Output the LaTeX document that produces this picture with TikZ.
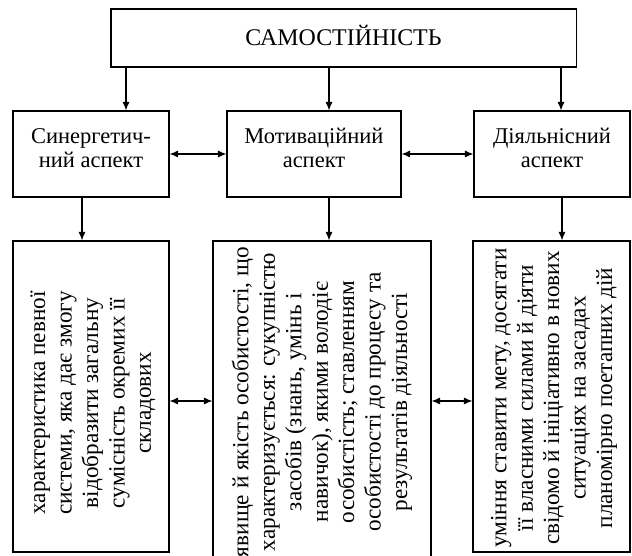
\documentclass[tikz,border=0pt]{standalone}
\usepackage{fontspec}
\setmainfont{Liberation Serif}
\usetikzlibrary{arrows.meta}

\begin{document}
\begin{tikzpicture}[x=0.025cm, y=-0.025cm, line width=0.8pt,
 >={Latex[length=6pt,width=5pt]},
 box/.style={draw, rectangle, inner sep=0pt},
 midtext/.style={font=\fontsize{16}{16.8}\selectfont, align=center, inner sep=0pt},
 sidetext/.style={font=\fontsize{16.5}{18.8}\selectfont, align=center, inner sep=0pt, rotate=90}]
  \useasboundingbox (0,0) rectangle (632,556);

  % top
  \node[box, minimum width=11.625cm, minimum height=1.45cm] (self) at (343.5,38) {};
  \node[midtext, font=\fontsize{17}{18}\selectfont] (self-t) at (343.5,35) {САМОСТІЙНІСТЬ};

  % aspects
  \node[box, minimum width=3.9cm, minimum height=2.15cm] (syn) at (91,154) {};
  \node[box, minimum width=4.35cm, minimum height=2.15cm] (mot) at (314,154) {};
  \node[box, minimum width=3.9cm, minimum height=2.15cm] (act) at (552,154) {};
  \node[midtext] (syn-t) at (91,148) {Синергетич-\\ний аспект};
  \node[midtext] (mot-t) at (314,148) {Мотиваційний\\аспект};
  \node[midtext] (act-t) at (552,148) {Діяльнісний\\аспект};

  % descriptions
  \node[box, minimum width=3.9cm, minimum height=7.775cm] (syn-d) at (91,396.5) {};
  \node[box, minimum width=5.45cm, minimum height=7.925cm] (mot-d) at (322,399.5) {};
  \node[box, minimum width=3.925cm, minimum height=7.775cm] (act-d) at (551.5,396.5) {};
  \node[sidetext] (syn-dt) at (93,403) {характеристика певної\\системи, яка дає змогу\\відобразити загальну\\сумісність окремих її\\складових};
  \node[sidetext] (mot-dt) at (322,402) {явище й якість особистості, що\\характеризується: сукупністю\\засобів (знань, умінь і\\навичок), якими володіє\\особистість; ставленням\\особистості до процесу та\\результатів діяльності};
  \node[sidetext] (act-dt) at (554,398) {уміння ставити мету, досягати\\її власними силами й діяти\\свідомо й ініціативно в нових\\ситуаціях на засадах\\планомірно поетапних дій};

  % arrow columns and rows
  \coordinate (c1) at (126,0);
  \coordinate (c2) at (329,0);
  \coordinate (c3) at (561,0);
  \coordinate (d1) at (82,0);
  \coordinate (d3) at (562,0);
  \coordinate (r2) at (0,401);

  \draw[->] (self.south -| c1) -- (syn.north -| c1);
  \draw[->] (self.south -| c2) -- (mot.north -| c2);
  \draw[->] (self.south -| c3) -- (act.north -| c3);

  \draw[<->] (syn.east) -- (mot.west);
  \draw[<->] (mot.east) -- (act.west);

  \draw[->] (syn.south -| d1) -- (syn-d.north -| d1);
  \draw[->] (mot.south -| c2) -- (mot-d.north -| c2);
  \draw[->] (act.south -| d3) -- (act-d.north -| d3);

  \draw[<->] (syn-d.east |- r2) -- (mot-d.west |- r2);
  \draw[<->] (mot-d.east |- r2) -- (act-d.west |- r2);
\end{tikzpicture}
\end{document}
